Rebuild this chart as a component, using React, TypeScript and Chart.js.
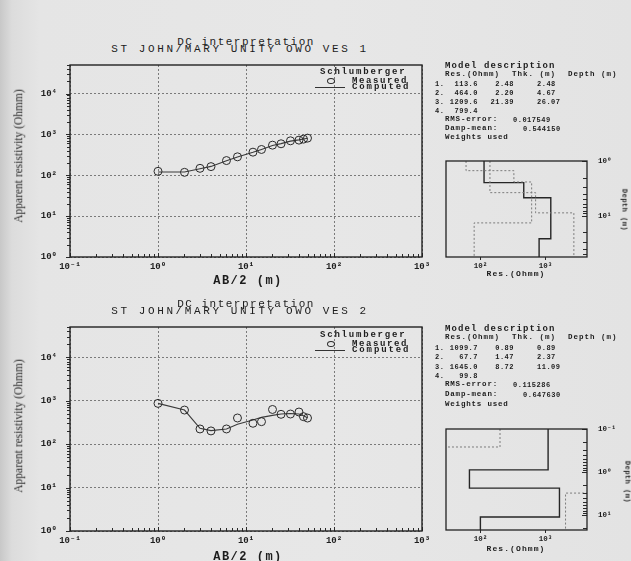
import React, { useEffect, useRef } from "react";
import { Chart, registerables } from "chart.js";

Chart.register(...registerables);

const MONO = '"Liberation Mono", "DejaVu Sans Mono", monospace';
const SERIF = '"Liberation Serif", "DejaVu Serif", serif';

// ---------- data ----------
const AB2 = [1, 2, 3, 4, 6, 8, 12, 15, 20, 25, 32, 40, 45, 50];
const VES1_MEASURED = [125, 118, 148, 163, 229, 283, 368, 428, 546, 590, 698, 725, 767, 812];
const VES1_COMPUTED = [120, 120, 145, 165, 227, 280, 365, 430, 535, 595, 685, 735, 770, 805];
const VES2_MEASURED = [870, 611, 224, 202, 224, 401, 303, 330, 630, 487, 495, 550, 430, 400];
const VES2_COMPUTED = [870, 611, 232, 205, 224, 287, 360, 415, 461, 495, 510, 495, 450, 408];

const VES1_RES = [113.6, 464.0, 1209.6, 799.4];
const VES1_THK = [2.48, 2.2, 21.39];
const VES1_DEPTH = [2.48, 4.67, 26.07];
const VES1_RMS = "0.017549";
const VES1_DAMP = "0.544150";
const VES1_BOUND_A_RES = [60, 327, 614, 80];
const VES1_BOUND_A_DEPTH = [1.5, 2.41, 13.4];
const VES1_BOUND_B_RES = [140, 706, 2740];
const VES1_BOUND_B_DEPTH = [3.77, 8.8];

const VES2_RES = [1099.7, 67.7, 1645.0, 99.8];
const VES2_THK = [0.89, 1.47, 8.72];
const VES2_DEPTH = [0.89, 2.37, 11.09];
const VES2_RMS = "0.115286";
const VES2_DAMP = "0.647630";
const VES2_BOUND_A_RES = [200, 20];
const VES2_BOUND_A_DEPTH = [0.262];
const VES2_BOUND_B_RES = [6000, 2040];
const VES2_BOUND_B_DEPTH = [3.09];

const AB2_RANGE = [0.1, 1000];
const RHO_RANGE = [1, 50000];
const INSET_RES_RANGE = [29.5, 4365];
const INSET_RES_TICKS = [100, 1000];
const VES1_DEPTH_RANGE = [1, 56];
const VES2_DEPTH_RANGE = [0.1, 22.3];

// ---------- helpers ----------
const SUP: Record<string, string> = {
  "-": "⁻", "0": "⁰", "1": "¹", "2": "²", "3": "³", "4": "⁴",
  "5": "⁵", "6": "⁶", "7": "⁷", "8": "⁸", "9": "⁹",
};
function isDecade(v: number) {
  const l = Math.log10(v);
  return Math.abs(l - Math.round(l)) < 1e-6;
}
function decadeLabel(v: number): string {
  if (!isDecade(v)) return "";
  const r = Math.round(Math.log10(v));
  return "10" + String(r).split("").map((c) => SUP[c]).join("");
}
function logTicks(min: number, max: number) {
  const out: { value: number }[] = [];
  const e0 = Math.floor(Math.log10(min) + 1e-9);
  const e1 = Math.ceil(Math.log10(max) - 1e-9);
  for (let e = e0; e <= e1; e++) {
    for (let m = 1; m <= 9; m++) {
      const v = m * Math.pow(10, e);
      if (v >= min * (1 - 1e-9) && v <= max * (1 + 1e-9)) out.push({ value: v });
    }
  }
  return out;
}
function stepPoints(res: number[], depth: number[], top: number, bottom: number) {
  const pts: { x: number; y: number }[] = [];
  let d0 = top;
  res.forEach((r, i) => {
    const d1 = i < depth.length ? depth[i] : bottom;
    pts.push({ x: r, y: d0 });
    pts.push({ x: r, y: d1 });
    d0 = d1;
  });
  return pts;
}

const framePlugin = {
  id: "frame",
  afterDraw(chart: any, _args: any, opts: any) {
    const ctx = chart.ctx;
    const a = chart.chartArea;
    ctx.save();
    ctx.strokeStyle = "#2a2a2a";
    ctx.lineWidth = 1;
    for (const spec of opts.ticks || []) {
      const scale = chart.scales[spec.axis];
      for (const t of scale.ticks) {
        const major = isDecade(t.value);
        if (spec.majorOnly && !major) continue;
        const len = major ? spec.majorLen : spec.len;
        const p = Math.round(scale.getPixelForValue(t.value)) + 0.5;
        ctx.beginPath();
        if (spec.edge === "bottom") {
          ctx.moveTo(p, a.bottom);
          ctx.lineTo(p, a.bottom + spec.dir * len);
        } else if (spec.edge === "left") {
          ctx.moveTo(a.left, p);
          ctx.lineTo(a.left + spec.dir * len, p);
        } else {
          ctx.moveTo(a.right, p);
          ctx.lineTo(a.right + spec.dir * len, p);
        }
        ctx.stroke();
      }
    }
    ctx.lineWidth = opts.width || 1.4;
    ctx.strokeStyle = "#222";
    ctx.strokeRect(a.left, a.top, a.right - a.left, a.bottom - a.top);
    ctx.restore();
  },
};

function tickFont(size: number) {
  return { family: MONO, size, weight: "bold" as const };
}

function fitX(h: number) {
  return (s: any) => { s.height = h; s.paddingLeft = 0; s.paddingRight = 0; s.paddingTop = 0; s.paddingBottom = 0; };
}
function fitY(w: number) {
  return (s: any) => { s.width = w; s.paddingLeft = 0; s.paddingRight = 0; s.paddingTop = 0; s.paddingBottom = 0; };
}

function mainConfig(measured: number[], computed: number[], g: { top: number; right: number; yw: number; xh: number }) {
  const majorGrid = (c: any) => (c.tick && isDecade(c.tick.value) ? "#7a7a7a" : "rgba(0,0,0,0)");
  return {
    type: "scatter",
    data: {
      datasets: [
        {
          data: AB2.map((x, i) => ({ x, y: computed[i] })),
          showLine: true, borderColor: "#3a3a3a", borderWidth: 1.1, pointRadius: 0, tension: 0, order: 2,
        },
        {
          data: AB2.map((x, i) => ({ x, y: measured[i] })),
          showLine: false, pointRadius: 4, pointBorderColor: "#2a2a2a",
          pointBackgroundColor: "rgba(0,0,0,0)", pointBorderWidth: 1, order: 1,
        },
      ],
    },
    options: {
      responsive: false, animation: false, devicePixelRatio: 1, events: [],
      layout: { padding: { top: g.top, right: g.right, left: 0, bottom: 0 } },
      plugins: {
        legend: { display: false }, tooltip: { enabled: false },
        frame: {
          width: 1.4,
          ticks: [
            { axis: "x", edge: "bottom", dir: -1, len: 3, majorLen: 4 },
            { axis: "y", edge: "left", dir: -1, len: 3, majorLen: 4 },
          ],
        },
      },
      scales: {
        x: {
          type: "logarithmic", position: "bottom", min: AB2_RANGE[0], max: AB2_RANGE[1],
          afterBuildTicks: (s: any) => { s.ticks = logTicks(AB2_RANGE[0], AB2_RANGE[1]); },
          afterFit: fitX(g.xh),
          ticks: { autoSkip: false, maxRotation: 0, minRotation: 0, padding: 4, color: "#1e1e1e", font: tickFont(9), callback: (v: any) => decadeLabel(Number(v)) },
          grid: { color: majorGrid, lineWidth: 1, drawTicks: false },
          border: { display: false, dash: [2, 2] },
        },
        y: {
          type: "logarithmic", position: "left", min: RHO_RANGE[0], max: RHO_RANGE[1],
          afterBuildTicks: (s: any) => { s.ticks = logTicks(RHO_RANGE[0], RHO_RANGE[1]); },
          afterFit: fitY(g.yw),
          ticks: { autoSkip: false, padding: 13, color: "#1e1e1e", font: tickFont(9), callback: (v: any) => decadeLabel(Number(v)) },
          grid: { color: majorGrid, lineWidth: 1, drawTicks: false },
          border: { display: false, dash: [2, 2] },
        },
      },
    },
    plugins: [framePlugin],
  };
}

function insetConfig(
  res: number[], depth: number[],
  aRes: number[], aDepth: number[], bRes: number[], bDepth: number[],
  dRange: number[], g: { top: number; left: number; yw: number; xh: number }
) {
  const dotted = { showLine: true, borderColor: "#7c7c7c", borderWidth: 1, borderDash: [2, 2], pointRadius: 0, tension: 0 };
  return {
    type: "scatter",
    data: {
      datasets: [
        { ...dotted, data: stepPoints(aRes, aDepth, dRange[0], dRange[1]) },
        { ...dotted, data: stepPoints(bRes, bDepth, dRange[0], dRange[1]) },
        { showLine: true, borderColor: "#262626", borderWidth: 1.4, pointRadius: 0, tension: 0, data: stepPoints(res, depth, dRange[0], dRange[1]) },
      ],
    },
    options: {
      responsive: false, animation: false, devicePixelRatio: 1, events: [],
      layout: { padding: { top: g.top, left: g.left, right: 0, bottom: 0 } },
      plugins: {
        legend: { display: false }, tooltip: { enabled: false },
        frame: {
          width: 1.3,
          ticks: [
            { axis: "x", edge: "bottom", dir: 1, len: 3, majorLen: 3, majorOnly: true },
            { axis: "y", edge: "right", dir: -1, len: 4, majorLen: 5 },
          ],
        },
      },
      scales: {
        x: {
          type: "logarithmic", position: "bottom", min: INSET_RES_RANGE[0], max: INSET_RES_RANGE[1],
          afterBuildTicks: (s: any) => { s.ticks = INSET_RES_TICKS.map((value) => ({ value })); },
          afterFit: fitX(g.xh),
          ticks: { autoSkip: false, maxRotation: 0, padding: 5, color: "#1e1e1e", font: tickFont(7.5), callback: (v: any) => decadeLabel(Number(v)) },
          grid: { display: false, drawTicks: false },
          border: { display: false },
        },
        y: {
          type: "logarithmic", position: "right", reverse: true, min: dRange[0], max: dRange[1],
          afterBuildTicks: (s: any) => { s.ticks = logTicks(dRange[0], dRange[1]); },
          afterFit: fitY(g.yw),
          ticks: { autoSkip: false, padding: 11, color: "#1e1e1e", font: tickFont(7.5), callback: (v: any) => decadeLabel(Number(v)) },
          grid: { display: false, drawTicks: false },
          border: { display: false },
        },
      },
    },
    plugins: [framePlugin],
  };
}

function ChartBox({ left, top, width, height, build }: { left: number; top: number; width: number; height: number; build: () => any }) {
  const ref = useRef<HTMLCanvasElement>(null);
  useEffect(() => {
    const chart = new Chart(ref.current as HTMLCanvasElement, build());
    return () => chart.destroy();
  }, []);
  return <canvas ref={ref} width={width} height={height} style={{ position: "absolute", left, top, width, height }} />;
}

function Txt({ x, y, s, size = 7, ls = 0.5, align = "left", family = MONO, bold = true, rotate = 0, color = "#1c1c1c" }: any) {
  const tx = align === "left" ? "0%" : align === "center" ? "-50%" : "-100%";
  return (
    <div
      style={{
        position: "absolute", left: x, top: y, whiteSpace: "pre", lineHeight: 1,
        fontFamily: family, fontSize: size, fontWeight: bold ? 700 : 400, letterSpacing: ls,
        color, transform: `translate(${tx}, -50%) rotate(${rotate}deg)`,
      }}
    >
      {s}
    </div>
  );
}

function ModelDesc({ ys, res, thk, depth, rms, damp }: any) {
  const [yt, yh, r1, r2, r3, r4, yr, yd, yw] = ys;
  const rows = [r1, r2, r3, r4];
  return (
    <>
      <Txt x={445} y={yt} s="Model description" size={9} ls={1.1} />
      <Txt x={445} y={yh} s="Res.(Ohmm)" size={7.5} ls={1.0} />
      <Txt x={512} y={yh} s="Thk. (m)" size={7.5} ls={1.0} />
      <Txt x={568} y={yh} s="Depth (m)" size={7.5} ls={1.0} />
      {res.map((r: number, i: number) => (
        <React.Fragment key={i}>
          <Txt x={435} y={rows[i]} s={`${i + 1}.`} />
          <Txt x={478} y={rows[i]} s={r.toFixed(1)} align="right" />
          {i < thk.length && <Txt x={514} y={rows[i]} s={thk[i].toFixed(2)} align="right" />}
          {i < depth.length && <Txt x={537} y={rows[i]} s={depth[i].toFixed(2)} />}
        </React.Fragment>
      ))}
      <Txt x={445} y={yr} s="RMS-error:" size={7.5} ls={0.8} />
      <Txt x={513} y={yr} s={rms} />
      <Txt x={445} y={yd} s="Damp-mean:" size={7.5} ls={0.8} />
      <Txt x={523} y={yd} s={damp} />
      <Txt x={445} y={yw} s="Weights used" size={7.5} ls={0.8} />
    </>
  );
}

function Legend({ y0 }: { y0: number }) {
  return (
    <>
      <Txt x={320} y={y0} s="Schlumberger" size={9} ls={1.8} />
      <div style={{ position: "absolute", left: 327, top: y0 + 5.5, width: 6, height: 4, border: "1px solid #2a2a2a", borderRadius: "50%" }} />
      <Txt x={352} y={y0 + 8.5} s="Measured" size={9} ls={1.6} />
      <div style={{ position: "absolute", left: 315, top: y0 + 14.5, width: 30, height: 1, background: "#333" }} />
      <Txt x={352} y={y0 + 15} s="Computed" size={9} ls={1.9} />
    </>
  );
}

export default function App() {
  return (
    <div
      style={{
        position: "absolute", left: 0, top: 0, width: 631, height: 561, overflow: "hidden",
        background: "linear-gradient(90deg, #c8c8c8 0px, #dcdcdc 12px, #e5e5e5 40px, #e7e7e7 330px, #e3e3e3 631px)",
      }}
    >
      {/* ---------- VES 1 ---------- */}
      <Txt x={246} y={41.5} s="DC interpretation" size={11} ls={1.5} align="center" bold={false} />
      <Txt x={240} y={48.5} s="ST JOHN/MARY UNITY OWO VES 1" size={11} ls={2.6} align="center" bold={false} />
      <ChartBox left={0} top={58} width={440} height={240} build={() => mainConfig(VES1_MEASURED, VES1_COMPUTED, { top: 7, right: 18, yw: 70, xh: 41 })} />
      <Txt x={19} y={156} s="Apparent resistivity (Ohmm)" size={11.5} ls={0} family={SERIF} bold={false} rotate={-90} align="center" color="#2a2a2a" />
      <Txt x={248} y={281} s="AB/2 (m)" size={12} ls={1.5} align="center" />
      <Legend y0={72} />
      <ModelDesc ys={[66, 75, 84, 93, 102, 111, 120, 129, 138]} res={VES1_RES} thk={VES1_THK} depth={VES1_DEPTH} rms={VES1_RMS} damp={VES1_DAMP} />
      <ChartBox left={440} top={150} width={191} height={132}
        build={() => insetConfig(VES1_RES, VES1_DEPTH, VES1_BOUND_A_RES, VES1_BOUND_A_DEPTH, VES1_BOUND_B_RES, VES1_BOUND_B_DEPTH, VES1_DEPTH_RANGE, { top: 11, left: 6, yw: 44, xh: 25 })} />
      <Txt x={516} y={274} s="Res.(Ohmm)" size={8} ls={1.1} align="center" />
      <Txt x={624} y={210} s="Depth (m)" size={7} ls={0.5} align="center" rotate={90} />

      {/* ---------- VES 2 ---------- */}
      <Txt x={246} y={303.5} s="DC interpretation" size={11} ls={1.5} align="center" bold={false} />
      <Txt x={240} y={310.5} s="ST JOHN/MARY UNITY OWO VES 2" size={11} ls={2.6} align="center" bold={false} />
      <ChartBox left={0} top={320} width={440} height={241} build={() => mainConfig(VES2_MEASURED, VES2_COMPUTED, { top: 7, right: 18, yw: 70, xh: 30 })} />
      <Txt x={19} y={426} s="Apparent resistivity (Ohmm)" size={11.5} ls={0} family={SERIF} bold={false} rotate={-90} align="center" color="#2a2a2a" />
      <Txt x={248} y={557} s="AB/2 (m)" size={12} ls={1.5} align="center" />
      <Legend y0={335} />
      <ModelDesc ys={[329, 338, 348, 357, 367, 376, 385, 395, 405]} res={VES2_RES} thk={VES2_THK} depth={VES2_DEPTH} rms={VES2_RMS} damp={VES2_DAMP} />
      <ChartBox left={440} top={418} width={191} height={143}
        build={() => insetConfig(VES2_RES, VES2_DEPTH, VES2_BOUND_A_RES, VES2_BOUND_A_DEPTH, VES2_BOUND_B_RES, VES2_BOUND_B_DEPTH, VES2_DEPTH_RANGE, { top: 11, left: 6, yw: 44, xh: 31 })} />
      <Txt x={516} y={549} s="Res.(Ohmm)" size={8} ls={1.1} align="center" />
      <Txt x={627} y={482} s="Depth (m)" size={7} ls={0.5} align="center" rotate={90} />
    </div>
  );
}
